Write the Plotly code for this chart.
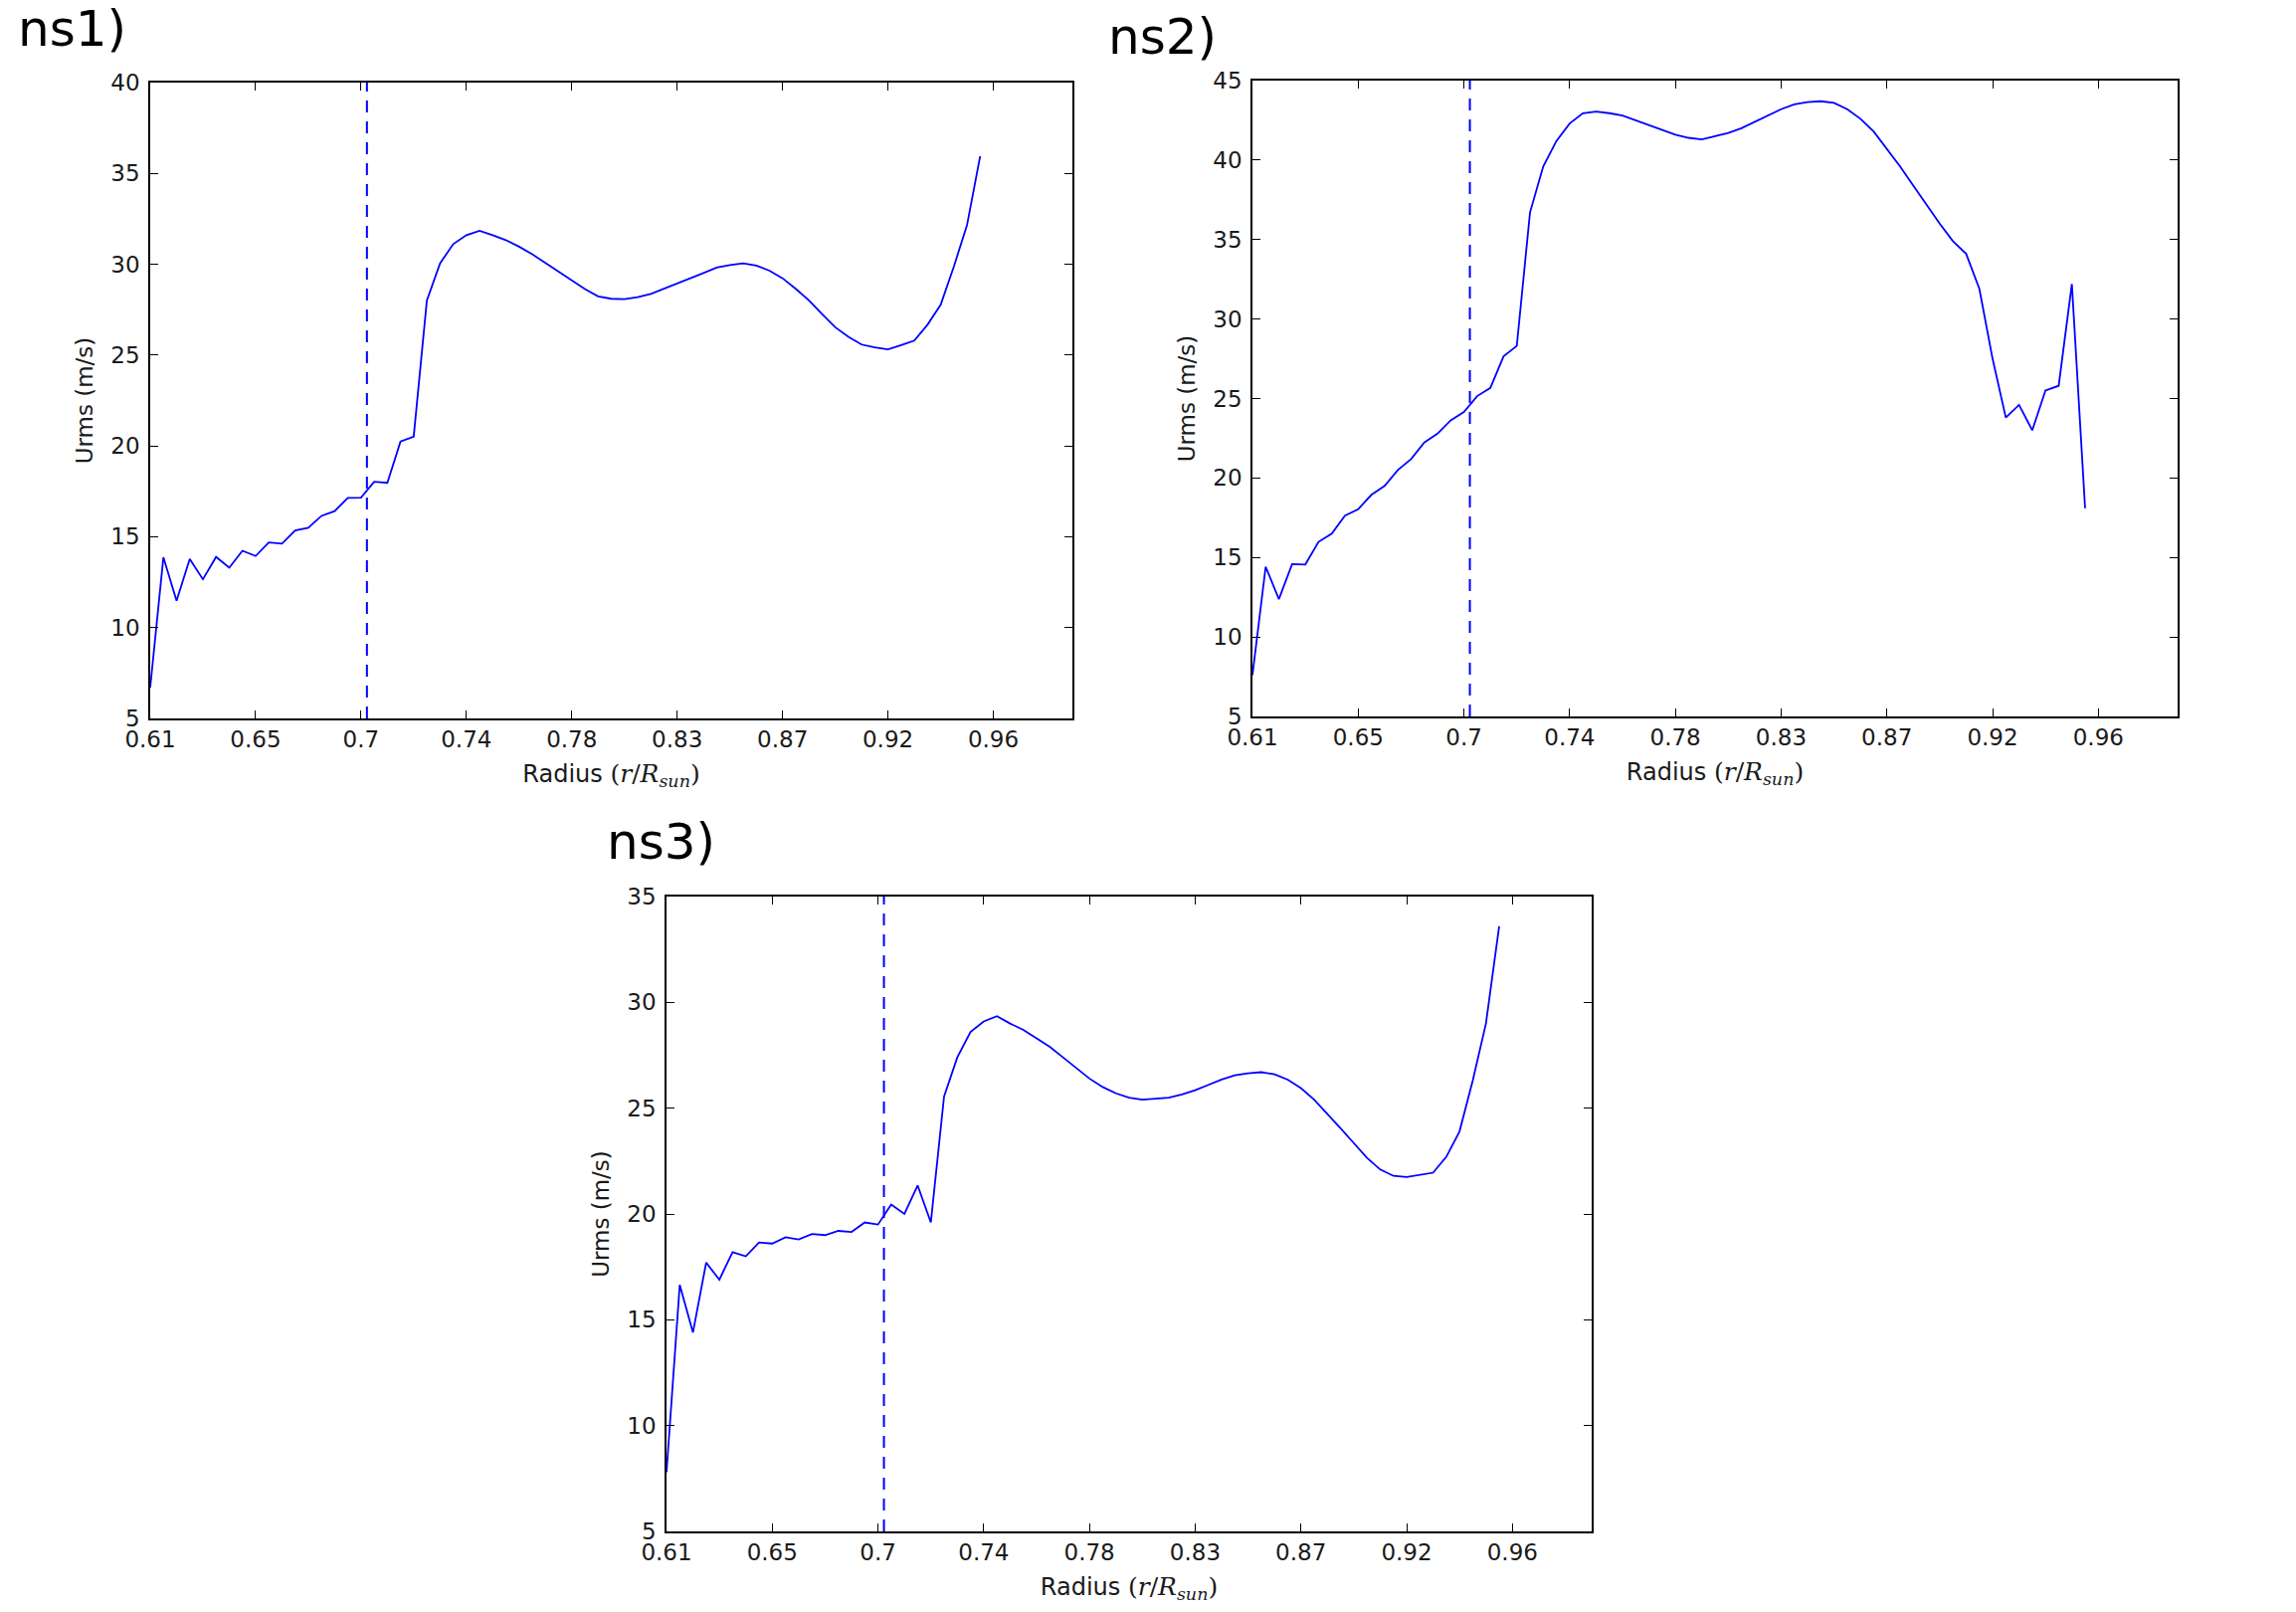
import plotly.graph_objects as go

# ---------------- data ----------------
tick_labels = ["0.61", "0.65", "0.7", "0.74", "0.78", "0.83", "0.87", "0.92", "0.96"]
tick_index = [0, 8, 16, 24, 32, 40, 48, 56, 64]
sample_index = list(range(64))
tachocline_index = 16.45   # r = 0.70

ns1_urms = [6.7, 13.87, 11.48, 13.78, 12.66, 13.89, 13.30, 14.23, 13.94, 14.69,
            14.62, 15.35, 15.49, 16.15, 16.41, 17.14, 17.15, 18.03, 17.97, 20.24,
            20.51, 28.01, 30.05, 31.11, 31.60, 31.84, 31.60, 31.33, 30.97, 30.55,
            30.07, 29.58, 29.08, 28.63, 28.23, 28.10, 28.08, 28.19, 28.37, 28.65,
            28.94, 29.23, 29.52, 29.82, 29.96, 30.05, 29.93, 29.65, 29.23, 28.65,
            28.01, 27.26, 26.53, 26.00, 25.58, 25.42, 25.31, 25.55, 25.80, 26.67,
            27.77, 29.87, 32.15, 35.95]

ns2_urms = [7.6, 14.42, 12.38, 14.58, 14.56, 15.98, 16.50, 17.63, 18.04, 18.94,
            19.50, 20.50, 21.19, 22.23, 22.79, 23.63, 24.15, 25.15, 25.67, 27.65,
            28.31, 36.70, 39.60, 41.20, 42.30, 42.95, 43.05, 42.95, 42.80, 42.50,
            42.20, 41.90, 41.60, 41.40, 41.30, 41.50, 41.70, 42.00, 42.40, 42.85,
            43.20, 43.50, 43.65, 43.70, 43.60, 43.20, 42.60, 41.80, 40.70, 39.60,
            38.40, 37.20, 36.00, 34.90, 34.10, 31.90, 27.50, 23.80, 24.60, 23.00,
            25.50, 25.80, 32.20, 18.10]

ns3_urms = [7.8, 16.65, 14.40, 17.70, 16.90, 18.20, 18.00, 18.65, 18.60, 18.90,
            18.80, 19.05, 19.00, 19.20, 19.15, 19.60, 19.50, 20.45, 20.00, 21.35,
            19.60, 25.55, 27.40, 28.60, 29.10, 29.35, 29.00, 28.70, 28.30, 27.90,
            27.40, 26.90, 26.40, 26.00, 25.70, 25.50, 25.40, 25.45, 25.50, 25.65,
            25.85, 26.10, 26.35, 26.55, 26.65, 26.70, 26.60, 26.35, 25.95, 25.40,
            24.75, 24.05, 23.35, 22.65, 22.10, 21.80, 21.75, 21.85, 21.95, 22.70,
            23.90, 26.30, 29.00, 33.60]

panel_names = ["ns1)", "ns2)", "ns3)"]
y_ranges = [[5, 40], [5, 45], [5, 35]]
series = [ns1_urms, ns2_urms, ns3_urms]

# ---------------- layout geometry (pixels) ----------------
W, H = 2308, 1620
boxes = [  # left, right, top, bottom
    (151, 1078, 83, 722),
    (1259, 2189, 81, 720),
    (670, 1600, 901, 1539),
]
title_pos = [(16, 29), (1112, 37), (608, 846)]

FONT = "DejaVu Sans"
BLUE = "#0000ff"
TXT = "#1a1a1a"

fig = go.Figure()
x_title = ('Radius <span style="font-family:DejaVu Serif;font-size:25px">(<i>r</i>/<i>R</i>'
           '<sub><i>sun</i></sub>)</span>')

for k in range(3):
    sfx = "" if k == 0 else str(k + 1)
    fig.add_trace(go.Scatter(
        x=sample_index, y=series[k], mode="lines",
        line=dict(color=BLUE, width=1.8),
        xaxis="x" + sfx, yaxis="y" + sfx, showlegend=False,
        hoverinfo="skip"))

    l, r, t, b = boxes[k]
    common = dict(showline=True, linecolor="black", linewidth=1.5,
                  mirror="ticks", ticks="inside", ticklen=8, tickwidth=1,
                  tickcolor="black", showgrid=False, zeroline=False,
                  automargin=False,
                  tickfont=dict(family=FONT, size=23, color=TXT))
    xa = dict(common, domain=[l / W, r / W], range=[0, 70],
              tickmode="array", tickvals=tick_index, ticktext=tick_labels,
              anchor="y" + sfx, ticklabelstandoff=0,
              title=dict(text=x_title, font=dict(family=FONT, size=24, color=TXT),
                         standoff=14))
    ya = dict(common, domain=[1 - b / H, 1 - t / H], range=y_ranges[k],
              tick0=5, dtick=5, anchor="x" + sfx, ticklabelstandoff=4,
              title=dict(text="Urms (m/s)", font=dict(family=FONT, size=23, color=TXT),
                         standoff=11))
    fig.update_layout(**{"xaxis" + sfx: xa, "yaxis" + sfx: ya})

    fig.add_shape(type="line", xref="x" + sfx, yref="y" + sfx + " domain",
                  x0=tachocline_index, x1=tachocline_index, y0=0, y1=1,
                  line=dict(color=BLUE, width=2, dash="12px,9px"))

    tx, ty = title_pos[k]
    fig.add_annotation(text=panel_names[k], xref="paper", yref="paper",
                       x=tx / W, y=1 - ty / H, xanchor="left", yanchor="middle",
                       showarrow=False, font=dict(family=FONT, size=50, color="black"))

fig.update_layout(width=W, height=H, margin=dict(l=0, r=0, t=0, b=0, autoexpand=False),
                  paper_bgcolor="white", plot_bgcolor="white", showlegend=False)

fig.write_html("out.html")
